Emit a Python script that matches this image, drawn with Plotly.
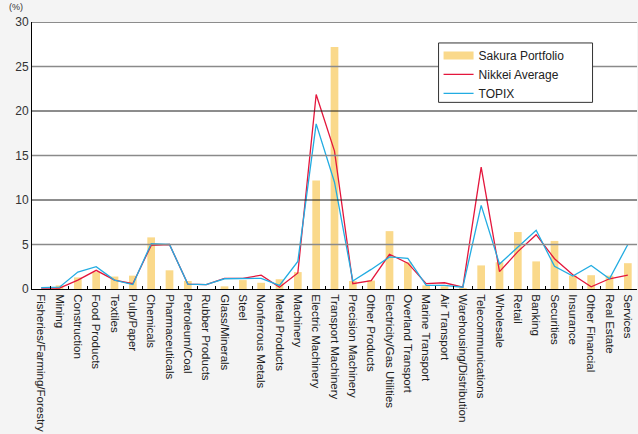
import plotly.graph_objects as go

# Sector weights (%) by industry
sectors = [
    "Fisheries/Farming/Forestry", "Mining", "Construction", "Food Products", "Textiles",
    "Pulp/Paper", "Chemicals", "Pharmaceuticals", "Petroleum/Coal", "Rubber Products",
    "Glass/Minerals", "Steel", "Nonferrous Metals", "Metal Products", "Machinery",
    "Electric Machinery", "Transport Machinery", "Precision Machinery", "Other Products",
    "Electricity/Gas Utilities", "Overland Transport", "Marine Transport", "Air Transport",
    "Warehousing/Distribution", "Telecommunications", "Wholesale", "Retail", "Banking",
    "Securities", "Insurance", "Other Financial", "Real Estate", "Services",
]

sakura = [0.0, 0.4, 1.3, 1.9, 1.4, 1.5, 5.8, 2.1, 0.9, 0.0, 0.3, 1.0, 0.7, 1.1, 1.9,
          12.2, 27.2, 0.9, 0.95, 6.5, 3.0, 0.4, 0.3, 0.1, 2.65, 3.0, 6.4, 3.1, 5.4,
          1.5, 1.55, 1.5, 2.9]

nikkei = [0.1, 0.1, 1.0, 2.1, 1.0, 0.6, 4.9, 5.0, 0.55, 0.5, 1.2, 1.2, 1.55, 0.2, 1.8,
          21.85, 15.5, 0.6, 0.95, 3.9, 2.9, 0.6, 0.7, 0.2, 13.7, 1.95, 4.2, 6.1, 3.4,
          1.6, 0.25, 1.15, 1.55]

topix = [0.15, 0.2, 1.9, 2.5, 1.0, 0.5, 5.1, 5.0, 0.55, 0.5, 1.15, 1.2, 1.2, 0.4, 3.1,
         18.55, 12.0, 0.9, 2.2, 3.6, 3.45, 0.4, 0.4, 0.2, 9.4, 2.8, 4.7, 6.6, 2.55,
         1.45, 2.65, 1.15, 5.0]

y_ticks = [0, 5, 10, 15, 20, 25, 30]

BAR = "#FAD98B"
RED = "#E4163C"
BLUE = "#22ACE2"
FONT = "Liberation Sans, Arial, sans-serif"

fig = go.Figure()

fig.add_trace(go.Bar(
    x=sectors, y=sakura, name="Sakura Portfolio", marker_color=BAR,
    marker_line_width=0, width=0.42, showlegend=False, legendgroup="sakura",
))
# wide swatch for the portfolio in the legend
fig.add_trace(go.Scatter(
    x=[None], y=[None], mode="lines", name="Sakura Portfolio",
    line=dict(color=BAR, width=8), legendgroup="sakura",
))
fig.add_trace(go.Scatter(
    x=sectors, y=nikkei, mode="lines", name="Nikkei Average",
    line=dict(color=RED, width=1.3),
))
fig.add_trace(go.Scatter(
    x=sectors, y=topix, mode="lines", name="TOPIX",
    line=dict(color=BLUE, width=1.3),
))

# horizontal rules: alternating grey / black
for v in y_ticks[1:]:
    grey = (v // 5) % 2 == 1
    fig.add_shape(
        type="line", xref="paper", x0=0, x1=1, yref="y", y0=v, y1=v,
        line=dict(color="#8a8a8a" if grey else "#1a1a1a", width=1.5 if grey else 1),
        layer="above",
    )

# legend frame
fig.add_shape(
    type="rect", xref="paper", yref="paper",
    x0=0.672, x1=0.9265, y0=0.699, y1=0.9215,
    fillcolor="#ffffff", line=dict(color="#333", width=1), layer="above",
)

fig.add_annotation(
    text="(%)", xref="paper", yref="paper", x=-0.012, y=1.03,
    xanchor="right", yanchor="bottom", showarrow=False,
    font=dict(family=FONT, size=9, color="#333"),
)

fig.update_layout(
    width=638, height=434,
    margin=dict(l=32, r=0.5, t=22, b=144.5),
    paper_bgcolor="#f4f4f4", plot_bgcolor="#ffffff",
    font=dict(family=FONT, size=12, color="#222"),
    bargap=0.58,
    legend=dict(
        x=0.672, y=0.929, xanchor="left", yanchor="top",
        bgcolor="rgba(0,0,0,0)", borderwidth=0,
        font=dict(family=FONT, size=12, color="#222"),
        tracegroupgap=0, itemwidth=30,
    ),
    xaxis=dict(
        type="category", categoryorder="array", categoryarray=sectors,
        tickangle=90, tickson="boundaries", ticks="inside", ticklen=3,
        tickcolor="#000", showline=True, linecolor="#000", linewidth=1,
        showgrid=False, tickfont=dict(family=FONT, size=11.5, color="#222"),
        ticklabelstandoff=2, automargin=False,
        range=[-0.5, len(sectors) - 0.5],
    ),
    yaxis=dict(
        range=[0, 30], tickvals=y_ticks, showgrid=False, zeroline=False,
        showline=True, linecolor="#000", linewidth=1, ticks="",
        automargin=False,
        tickfont=dict(family=FONT, size=12, color="#333"),
    ),
)

fig.write_html("out.html")
